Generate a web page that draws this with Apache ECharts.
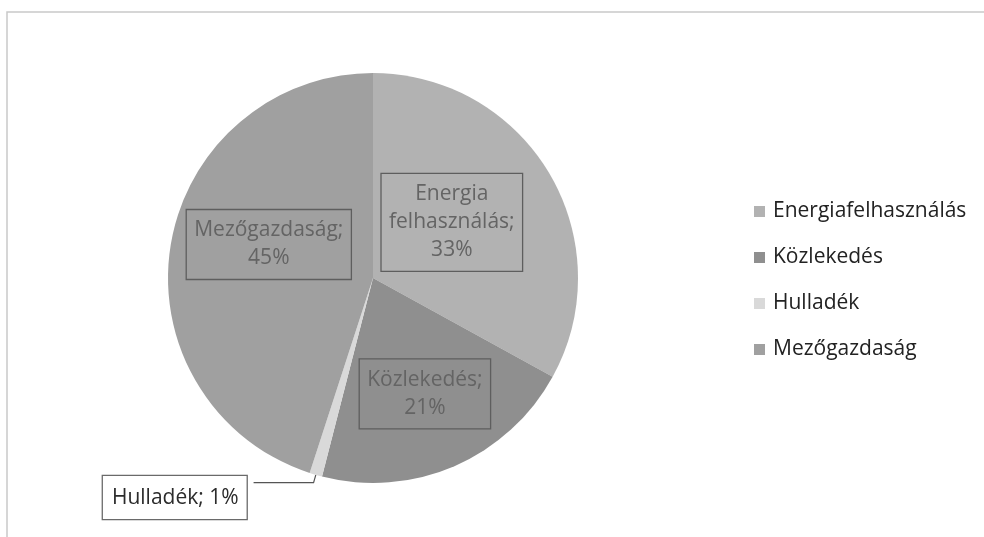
<!DOCTYPE html>
<html>
<head>
<meta charset="utf-8">
<script src="https://cdn.jsdelivr.net/npm/echarts@6/dist/echarts.min.js"></script>
<style>
  html, body { margin: 0; padding: 0; background: #fff; }
  #chart { width: 984px; height: 537px; }
</style>
</head>
<body>
<div id="chart"></div>
<script>
// Sector shares of emissions (percent)
const categories = ['Energiafelhasználás', 'Közlekedés', 'Hulladék', 'Mezőgazdaság'];
const sliceLabels = ['Energia\nfelhasználás;', 'Közlekedés;', 'Hulladék;', 'Mezőgazdaság;'];
const shares = [33, 21, 1, 45];

const colors = ['#b2b2b2', '#8f8f8f', '#d9d9d9', '#a0a0a0'];
const FONT = '"Open Sans", "Noto Sans", sans-serif';

const insideLabel = {
  show: true,
  position: 'inside',
  color: '#646464',
  fontFamily: FONT,
  fontSize: 21,
  lineHeight: 28,
  borderColor: '#5e5e5e',
  borderWidth: 1.3,
  padding: [7, 8, 7, 8],
  formatter: p => sliceLabels[p.dataIndex] + '\n' + p.value + '%'
};

const data = categories.map((name, i) => {
  const item = { name, value: shares[i], itemStyle: { color: colors[i] } };
  if (name === 'Hulladék') {
    item.label = {
      show: true,
      position: 'outside',
      color: '#2b2b2b',
      backgroundColor: '#ffffff',
      borderColor: '#6a6a6a',
      borderWidth: 1.3,
      padding: [8, 8, 7, 9],
      fontFamily: FONT,
      fontSize: 21,
      formatter: p => sliceLabels[p.dataIndex] + ' ' + p.value + '%'
    };
    item.labelLine = { show: true, length: 8, length2: 60, lineStyle: { color: '#555', width: 1.2 } };
  }
  return item;
});

// nudges applied to the default label anchor of each slice
const labelNudge = [[-12, -2], [10, 19], [-2, 15], [0, -17]];

const chart = echarts.init(document.getElementById('chart'));
chart.setOption({
  animation: false,
  backgroundColor: '#ffffff',
  graphic: [{
    type: 'rect',
    shape: { x: 7, y: 12, width: 1000, height: 560 },
    style: { fill: 'none', stroke: '#c9c9c9', lineWidth: 1.5 },
    silent: true
  }],
  legend: {
    orient: 'vertical',
    left: 749,
    top: 196,
    itemGap: 25,
    itemWidth: 11,
    itemHeight: 11,
    icon: 'rect',
    data: categories,
    textStyle: { fontFamily: FONT, fontSize: 21, color: '#222', padding: [0, 0, 0, 3] }
  },
  series: [{
    type: 'pie',
    center: [373, 278],
    radius: 205,
    startAngle: 90,
    clockwise: true,
    avoidLabelOverlap: false,
    itemStyle: { borderWidth: 0 },
    label: insideLabel,
    labelLine: { show: false },
    emphasis: { disabled: true },
    labelLayout: p => ({ dx: labelNudge[p.dataIndex][0], dy: labelNudge[p.dataIndex][1] }),
    data
  }]
});
</script>
</body>
</html>
